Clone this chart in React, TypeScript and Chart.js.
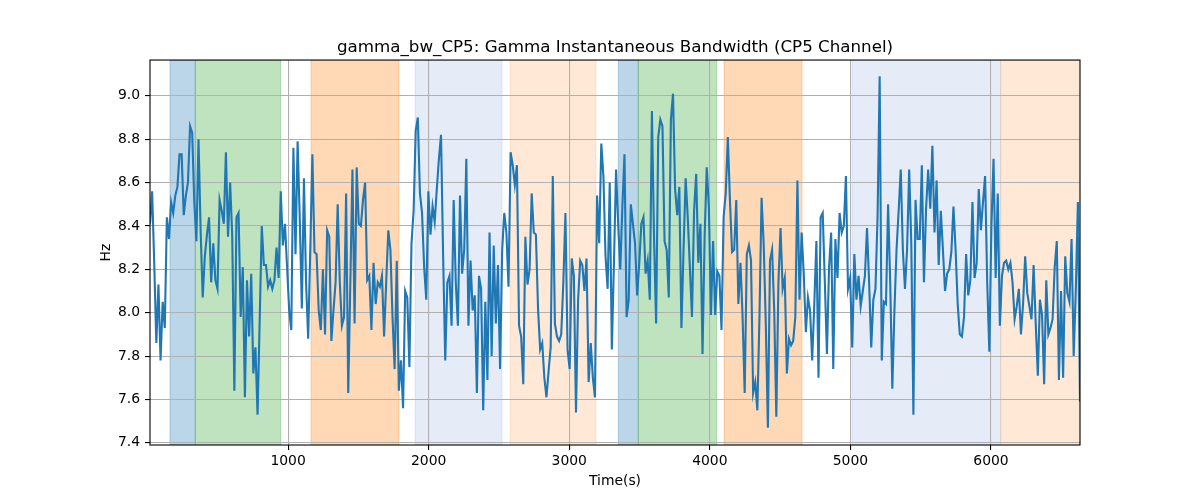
import { Chart, registerables } from "chart.js";
import { useEffect, useRef } from "react";

Chart.register(...registerables);

// sampling of the recording (seconds)
const sampleStart = 18;
const sampleStep = 15;

// gamma instantaneous bandwidth, Hz, one value per sample
const bandwidthHz = [
  8.41, 8.56, 8.23, 7.86, 8.13, 7.78, 8.05, 7.93, 8.44, 8.34, 8.51, 8.46, 8.54, 8.58, 8.73, 8.73,
  8.45, 8.54, 8.6, 8.86, 8.83, 8.51, 8.33, 8.8, 8.38, 8.07, 8.26, 8.36, 8.44, 8.14, 8.32, 8.15,
  8.11, 8.52, 8.47, 8.41, 8.74, 8.35, 8.6, 8.35, 7.64, 8.44, 8.46, 7.98, 8.21, 7.61, 8.15, 7.89,
  8.18, 7.72, 7.84, 7.53, 7.96, 8.4, 8.22, 8.22, 8.12, 8.15, 8.11, 8.15, 8.3, 8.16, 8.56, 8.31,
  8.41,
  8.21, 8.01, 7.92, 8.76, 8.27, 8.79, 8.44, 8.02, 8.62, 8.14, 7.88, 8.29, 8.73, 8.28, 8.27, 8.01,
  7.92, 8.2, 7.9, 8.38, 8.35, 7.87, 8.01, 8.14, 8.5, 8.14, 7.94, 7.98, 8.55, 7.63, 8.14, 8.66,
  7.95, 8.67, 8.41, 8.4, 8.52, 8.6, 8.15, 8.17, 7.92, 8.23, 8.04, 8.14, 8.12, 8.17, 7.89, 8.14,
  8.38, 8.29, 7.98, 7.74, 8.24, 7.64, 7.78, 7.56, 8.1, 8.07, 7.75, 8.32, 8.47, 8.84, 8.9, 8.55,
  8.46, 8.21, 8.06, 8.56, 8.36, 8.49, 8.42, 8.57, 8.71, 8.82, 8.26, 7.78, 8.14, 8.17, 7.94, 8.52,
  8.14, 7.94, 8.54, 8.18, 8.29, 8.71, 7.94, 8.24, 8.01, 8.08, 7.63, 8.17, 8.11, 7.55, 8.05, 7.69,
  8.37, 7.8, 8.31, 7.95, 8.22, 7.74, 8.29, 8.46, 8.37, 8.12, 8.74, 8.68, 8.59, 8.68, 7.94, 7.89,
  7.67, 8.35, 8.13, 8.2, 8.55, 8.37, 8.36, 8.02, 7.83, 7.86, 7.7, 7.61, 7.73, 7.84, 8.63, 7.95,
  7.89, 7.87, 7.9, 8.14, 8.46, 7.83, 7.74, 8.25, 8.17, 7.54, 8.06, 8.24, 8.22, 8.1, 8.25, 7.68,
  7.86, 7.7, 7.61, 8.54, 8.32, 8.78,
  8.63, 8.26, 8.11, 8.6, 7.83, 8.23, 8.66, 8.41, 8.2, 8.49, 8.73, 7.98, 8.06, 8.5, 8.41, 8.32,
  8.08, 8.23, 8.41, 8.44, 8.18, 8.24, 8.06, 8.93, 8.35, 7.95, 8.81, 8.89, 8.86, 8.33, 8.29, 8.07,
  8.89, 9.01, 8.57, 8.45, 8.58, 7.93, 8.29, 8.62, 8.44, 8.21, 7.98, 8.47, 8.64, 8.23, 8.41, 7.81,
  8.35, 8.67, 8.49, 7.99, 8.33, 7.99, 8.19, 8.17, 7.92, 8.44, 8.55, 8.81, 8.52, 8.28, 8.29, 8.52,
  8.04, 8.23, 7.98, 7.63, 8.27, 8.31, 8.24, 7.63, 7.68, 7.55, 7.98, 8.53, 8.32, 7.95, 7.47, 8.24,
  8.29, 8.01, 7.52, 8.14, 8.39, 8.11, 8.16, 7.72, 7.88, 7.85, 7.87, 7.98, 8.61, 8.06, 8.37, 8.18,
  7.91, 8.07, 8.01, 7.78, 8.04, 8.33, 7.7, 8.44, 8.46, 8.14, 7.81, 8.21, 8.37, 7.74, 8.34, 8.16,
  8.46, 8.37, 8.4, 8.63, 8.11, 8.16, 7.84, 8.27, 8.06, 8.17, 8.03, 8.1, 8.17, 8.39, 8.14, 7.84,
  8.06, 8.11, 8.44, 9.09, 7.78, 8.05, 8.04, 8.5, 8.14, 7.65, 8.01, 8.29, 8.47, 8.66, 8.29, 8.11,
  8.29, 8.66, 8.32, 7.53, 8.52, 8.34, 8.34, 8.68, 8.14, 8.48, 8.66, 8.48, 8.77, 8.37, 8.61, 8.22,
  8.47, 8.29, 8.1, 8.18, 8.2, 8.28, 8.49, 8.29, 8.04, 7.9, 7.89, 7.98, 8.27, 8.08, 8.15, 8.51,
  8.16, 8.23, 8.57, 8.38, 8.51, 8.63, 8.14, 7.82, 8.4, 8.71, 8.16, 8.55, 7.94, 8.17, 8.23, 8.24,
  8.2, 8.23, 8.14, 7.97, 8.03, 8.11, 7.9, 8.04, 8.26, 8.09, 8.03, 7.97, 8.22, 7.95, 7.71, 8.06,
  7.99, 7.67, 8.15, 7.9, 7.93, 7.97, 8.21, 8.33, 7.69, 8.1, 7.7, 8.26, 8.09, 8.05, 8.34, 7.8,
  8.1, 8.51, 7.59,
];

// axis ticks
const timeTicks = [1000, 2000, 3000, 4000, 5000, 6000];
const hzTicks = [7.4, 7.6, 7.8, 8.0, 8.2, 8.4, 8.6, 8.8, 9.0];

// shaded episodes (seconds)
const spanStarts = [160, 340, 1163, 1903, 2579, 3349, 3491, 4101, 5013, 6069];
const spanEnds = [340, 948, 1789, 2522, 3190, 3491, 4049, 4656, 6069, 6633];
const spanKinds = ["blue", "green", "orange", "paleBlue", "paleOrange", "blue", "green", "orange", "paleBlue", "paleOrange"];

const spanFill: Record<string, string> = {
  blue: "rgba(31,119,180,0.3)",
  green: "rgba(44,160,44,0.3)",
  orange: "rgba(255,127,14,0.3)",
  paleBlue: "rgba(100,140,210,0.17)",
  paleOrange: "rgba(255,127,14,0.17)",
};

const FONT = "'DejaVu Sans', sans-serif";

const spansPlugin = {
  id: "spans",
  beforeDraw(chart: any) {
    const { ctx, chartArea, scales } = chart;
    ctx.save();
    ctx.beginPath();
    ctx.rect(chartArea.left, chartArea.top, chartArea.width, chartArea.height);
    ctx.clip();
    spanStarts.forEach((start, i) => {
      const x0 = scales.x.getPixelForValue(start);
      const x1 = scales.x.getPixelForValue(spanEnds[i]);
      ctx.fillStyle = spanFill[spanKinds[i]];
      ctx.fillRect(x0, chartArea.top, x1 - x0, chartArea.height);
      ctx.strokeStyle = spanFill[spanKinds[i]];
      ctx.lineWidth = 1;
      ctx.strokeRect(x0, chartArea.top, x1 - x0, chartArea.height);
    });
    ctx.restore();
  },
};

const framePlugin = {
  id: "frame",
  afterDraw(chart: any) {
    const { ctx, chartArea } = chart;
    ctx.save();
    ctx.strokeStyle = "#000";
    ctx.lineWidth = 1.1;
    ctx.strokeRect(chartArea.left, chartArea.top, chartArea.width, chartArea.height);
    ctx.restore();
  },
};

export default function App() {
  const chartRef = useRef<HTMLCanvasElement | null>(null);

  useEffect(() => {
    document.body.style.margin = "0";
    const ctx = chartRef.current?.getContext("2d");
    if (!ctx) return;

    const points = bandwidthHz.map((v, i) => ({ x: sampleStart + i * sampleStep, y: v }));
    const lastTime = sampleStart + (bandwidthHz.length - 1) * sampleStep;

    const tickFont = { family: FONT, size: 13.9 };
    const gridStyle = {
      color: "#b0b0b0",
      lineWidth: 1.1,
      tickColor: "#000",
      tickLength: 5,
      tickWidth: 1.1,
    };

    const chart = new Chart(ctx, {
      type: "line",
      data: {
        datasets: [
          {
            data: points,
            borderColor: "#1f77b4",
            borderWidth: 2.1,
            pointRadius: 0,
            tension: 0,
            fill: false,
          },
        ],
      },
      plugins: [spansPlugin, framePlugin],
      options: {
        animation: false,
        responsive: true,
        maintainAspectRatio: false,
        layout: { padding: { left: 0, right: 120, top: 0, bottom: 0 } },
        plugins: {
          legend: { display: false },
          tooltip: { enabled: false },
          title: {
            display: true,
            fullSize: false,
            text: "gamma_bw_CP5: Gamma Instantaneous Bandwidth (CP5 Channel)",
            color: "#000",
            font: { family: FONT, size: 16.7, weight: "normal" },
            padding: { top: 38, bottom: 2 },
          },
        },
        scales: {
          x: {
            type: "linear",
            min: sampleStart,
            max: lastTime,
            afterFit: (scale: any) => {
              scale.height = 55;
            },
            afterBuildTicks: (scale: any) => {
              scale.ticks = timeTicks.map((value) => ({ value }));
            },
            grid: gridStyle,
            border: { display: false },
            ticks: {
              color: "#000",
              font: tickFont,
              padding: 3,
              maxRotation: 0,
              autoSkip: false,
              callback: (value: any) => String(value),
            },
            title: {
              display: true,
              text: "Time(s)",
              color: "#000",
              font: tickFont,
              padding: { top: 0, bottom: 10 },
            },
          },
          y: {
            type: "linear",
            min: 7.39,
            max: 9.165,
            afterFit: (scale: any) => {
              scale.width = 150;
            },
            afterBuildTicks: (scale: any) => {
              scale.ticks = hzTicks.map((value) => ({ value }));
            },
            grid: gridStyle,
            border: { display: false },
            ticks: {
              color: "#000",
              font: tickFont,
              padding: 5,
              autoSkip: false,
              callback: (value: any) => Number(value).toFixed(1),
            },
            title: {
              display: true,
              text: "Hz",
              color: "#000",
              font: tickFont,
              padding: { top: 98, bottom: 0 },
            },
          },
        },
      },
    });

    return () => chart.destroy();
  }, []);

  return (
    <div style={{ width: 1200, height: 500 }}>
      <canvas ref={chartRef} />
    </div>
  );
}
